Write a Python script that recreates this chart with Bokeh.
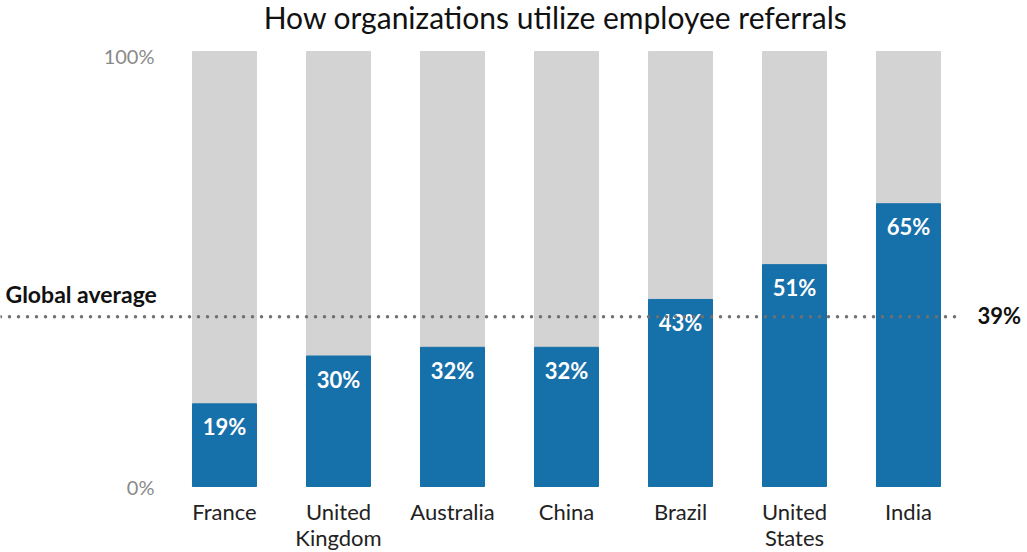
from bokeh.plotting import figure
from bokeh.models import Range1d, Label
from bokeh.core.properties import value
from bokeh.embed import file_html
from bokeh.resources import INLINE

title = "How organizations utilize employee referrals"
categories = ["France", "United\nKingdom", "Australia", "China", "Brazil", "United\nStates", "India"]
values = [19, 30, 32, 32, 43, 51, 65]
avg = 39
avg_label = "Global average"
y_ticks = [0, 100]
y_tick_labels = ["0%", "100%"]

FONT = "Lato"
BLUE = "#1670aa"
GRAY = "#d3d3d3"
DARK = "#111111"

idx = list(range(len(categories)))
X0, X1 = -1.9649, 7.0439
Y0, Y1 = -15.172, 111.724

p = figure(width=1027, height=552,
           x_range=Range1d(X0, X1), y_range=Range1d(Y0, Y1),
           x_axis_type=None, y_axis_type=None,
           toolbar_location=None, output_backend="svg", min_border=0)
p.outline_line_color = None
p.grid.visible = False
p.background_fill_color = "white"

bw = 0.5614
p.vbar(x=idx, top=[100] * len(idx), bottom=0, width=bw, color=GRAY)
p.vbar(x=idx, top=values, bottom=0, width=bw, color=BLUE)

# value labels
p.text(x=idx, y=values, text=[f"{v}%" for v in values], text_color="white",
       text_font=value(FONT), text_font_style="bold", text_font_size="22px",
       text_align="center", text_baseline="alphabetic", y_offset=23)

# category labels (two lines drawn separately)
line1 = [c.split("\n")[0] for c in categories]
line2 = [c.split("\n")[1] if "\n" in c else "" for c in categories]
p.text(x=idx, y=[0] * len(idx), text=line1, text_color="#222222",
       text_font=value(FONT), text_font_size="22px",
       text_align="center", text_baseline="alphabetic", y_offset=25)
p.text(x=idx, y=[0] * len(idx), text=line2, text_color="#222222",
       text_font=value(FONT), text_font_size="22px",
       text_align="center", text_baseline="alphabetic", y_offset=51)

# y tick labels
p.text(x=[-0.614], y=[y_ticks[0]], text=[y_tick_labels[0]], text_color="#8a8a8a",
       text_font=value(FONT), text_font_size="20px",
       text_align="right", text_baseline="alphabetic", y_offset=0)
p.text(x=[-0.614], y=[y_ticks[1]], text=[y_tick_labels[1]], text_color="#8a8a8a",
       text_font=value(FONT), text_font_size="20px",
       text_align="right", text_baseline="alphabetic", y_offset=5)

# global average line
p.line(x=[X0, 6.456], y=[avg, avg], line_color="#707070", line_width=3.5,
       line_dash="0 9", line_cap="round")

p.add_layout(Label(x=-1.921, y=avg, text=avg_label, text_font=FONT, text_font_size="23px",
                   text_font_style="bold", text_color=DARK, y_offset=23,
                   text_baseline="alphabetic"))
p.add_layout(Label(x=6.605, y=avg, text=f"{avg}%", text_font=FONT, text_font_size="22px",
                   text_font_style="bold", text_color=DARK, y_offset=1,
                   text_baseline="alphabetic"))

p.add_layout(Label(x=2.904, y=Y1, text=title, text_font=FONT, text_font_size="30px",
                   text_color=DARK, text_align="center", text_baseline="alphabetic",
                   y_offset=-16))

open("out.html", "w").write(file_html(p, INLINE))
